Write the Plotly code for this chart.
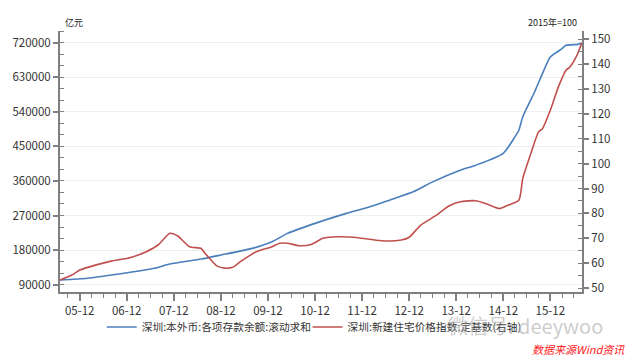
import plotly.graph_objects as go

# ---- data ----
blue_dates = ["2005-07-01", "2006-02-01", "2006-10-01", "2007-07-01", "2007-11-01",
              "2008-07-01", "2008-12-01", "2009-08-01", "2010-01-01", "2010-05-01",
              "2010-12-01", "2011-08-01", "2012-02-01", "2012-07-01", "2013-01-01",
              "2013-06-01", "2014-01-01", "2014-05-01", "2014-12-01",
              "2015-03-01", "2015-04-01", "2015-05-01", "2015-08-01", "2015-10-01",
              "2015-12-01", "2016-03-01", "2016-04-01", "2016-07-01", "2016-08-01"]
blue_vals = [102000, 106400, 117600, 132400, 143600,
             156600, 167000, 184400, 201600, 223400,
             249500, 275500, 292600, 310000, 331600,
             357600, 388000, 401000, 432000,
             474700, 492000, 526700, 591700, 639600,
             682800, 704600, 713200, 715800, 719000]

red_dates = ["2005-07-01", "2005-10-01", "2005-12-01", "2006-04-01", "2006-08-01",
             "2007-01-01", "2007-05-01", "2007-08-01", "2007-11-01", "2008-01-01",
             "2008-04-01", "2008-07-01", "2008-08-01", "2008-11-01", "2009-01-01",
             "2009-03-01", "2009-05-01", "2009-09-01", "2010-01-01", "2010-03-01",
             "2010-05-01", "2010-08-01", "2010-11-01", "2011-02-01", "2011-06-01",
             "2011-10-01", "2012-05-01", "2012-10-01", "2012-12-01", "2013-03-01",
             "2013-07-01", "2013-10-01", "2014-01-01", "2014-05-01", "2014-08-01",
             "2014-11-01", "2015-01-01", "2015-04-01", "2015-05-01", "2015-07-01",
             "2015-09-01", "2015-10-01", "2015-12-01", "2016-02-01", "2016-04-01",
             "2016-05-01", "2016-07-01", "2016-08-01"]
red_vals = [53.2, 55.2, 57.2, 59.2, 60.8,
            62.3, 64.6, 67.3, 72.0, 70.9,
            66.6, 65.9, 63.9, 58.8, 58.0,
            58.3, 60.6, 64.6, 66.6, 68.0,
            68.0, 67.0, 67.5, 70.0, 70.6,
            70.4, 69.0, 69.3, 70.4, 75.3,
            79.3, 82.9, 84.7, 85.1, 83.7,
            82.0, 83.2, 85.3, 94.0, 103.8,
            112.8, 114.1, 121.5, 130.8, 137.6,
            138.9, 144.3, 148.5]

name_blue = "深圳:本外币:各项存款余额:滚动求和"
name_red = "深圳:新建住宅价格指数:定基数(右轴)"

FONT = "Noto Sans CJK SC"
AXIS = "#7f7f7f"
TXT = "#333333"

fig = go.Figure()
fig.add_trace(go.Scatter(x=blue_dates, y=blue_vals, name=name_blue, mode="lines",
                         line=dict(color="#4a7ebb", width=1.6, shape="spline", smoothing=0.6),
                         yaxis="y", legend="legend"))
fig.add_trace(go.Scatter(x=red_dates, y=red_vals, name=name_red, mode="lines",
                         line=dict(color="#c0504d", width=1.6, shape="spline", smoothing=0.6),
                         yaxis="y2", legend="legend2"))

legend_common = dict(orientation="h", y=-(327 - 292) / 261, xanchor="left", yanchor="middle",
                     font=dict(size=10.7, color=TXT), itemwidth=30,
                     bgcolor="rgba(0,0,0,0)")

fig.update_layout(
    width=640, height=358,
    margin=dict(l=57, r=58, t=31, b=66),
    paper_bgcolor="white", plot_bgcolor="white",
    font=dict(family=FONT, size=11.5, color=TXT),
    showlegend=True,
    legend=dict(x=(99 - 57) / 525, **legend_common),
    legend2=dict(x=(306 - 57) / 525, **legend_common),
    xaxis=dict(type="date", range=["2005-07-01", "2016-08-03"],
               tickmode="linear", tick0="2005-12-01", dtick="M12", tickformat="%y-%m",
               ticks="outside", ticklen=7, tickwidth=1.5, tickcolor=AXIS,
               showline=True, linecolor=AXIS, linewidth=2, showgrid=False,
               zeroline=False, tickfont=dict(size=11.5, color=TXT),
               minor=dict(ticks="outside", ticklen=4, tickwidth=1.2, tickcolor=AXIS,
                          dtick="M3", tick0="2005-12-01", showgrid=False)),
    yaxis=dict(range=[70730, 750560], tickmode="linear", tick0=90000, dtick=90000,
               tickformat="d", ticks="outside", ticklen=5, tickwidth=1.5, tickcolor=AXIS,
               showline=True, linecolor=AXIS, linewidth=2,
               showgrid=True, gridcolor="#efefef", gridwidth=1, zeroline=False,
               tickfont=dict(size=11.5, color=TXT),
               minor=dict(ticks="inside", ticklen=4, tickwidth=1.2, tickcolor=AXIS,
                          dtick=30000, tick0=90000, showgrid=False)),
    yaxis2=dict(range=[48.39, 153.38], overlaying="y", side="right",
                tickmode="linear", tick0=50, dtick=10,
                ticks="outside", ticklen=5, tickwidth=1.5, tickcolor=AXIS,
                showline=True, linecolor=AXIS, linewidth=2,
                showgrid=False, zeroline=False, tickfont=dict(size=11.5, color=TXT),
                minor=dict(ticks="inside", ticklen=4, tickwidth=1.2, tickcolor=AXIS,
                           dtick=5, tick0=50, showgrid=False)),
)

fig.add_annotation(text="亿元", xref="paper", yref="paper", x=0.005, y=1.0,
                   xanchor="left", yanchor="bottom", showarrow=False,
                   font=dict(size=9, color="#222222"))
fig.add_annotation(text="2015年=100", xref="paper", yref="paper", x=0.995, y=1.0,
                   xanchor="right", yanchor="bottom", showarrow=False,
                   font=dict(size=9, color="#222222"))
fig.add_annotation(text="微信号: deeywoo", xref="paper", yref="paper",
                   x=(445 - 57) / 525, y=-(325 - 292) / 261,
                   xanchor="left", yanchor="middle", showarrow=False,
                   font=dict(size=20, color="rgba(170,170,170,0.6)"))
fig.add_annotation(text="<i>数据来源Wind资讯</i>", xref="paper", yref="paper",
                   x=(627 - 57) / 525, y=-(349 - 292) / 261,
                   xanchor="right", yanchor="middle", showarrow=False,
                   font=dict(size=11, color="#ff2020"))

fig.write_html("out.html", config={"displayModeBar": False},
               post_script="document.body.style.margin='0';document.body.style.padding='0';")
